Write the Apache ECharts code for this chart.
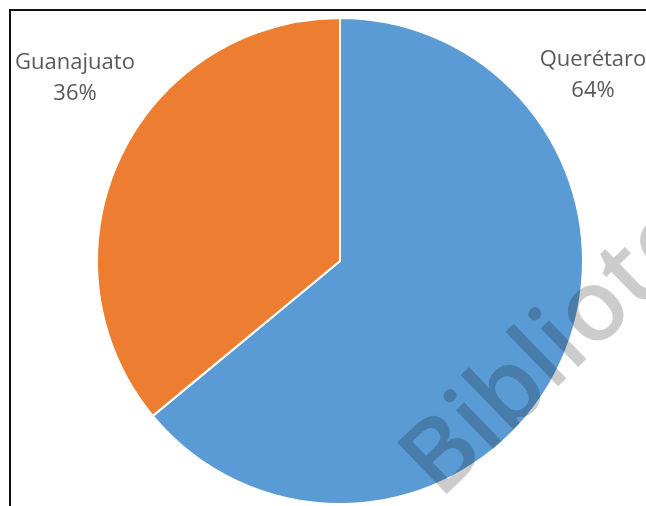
<!DOCTYPE html>
<html>
<head>
<meta charset="utf-8">
<style>
  html, body { margin: 0; padding: 0; background: #ffffff; }
  #chart { width: 646px; height: 506px; }
</style>
<script src="https://cdn.jsdelivr.net/npm/echarts@6/dist/echarts.min.js"></script>
</head>
<body>
<div id="chart"></div>
<script>
// Share of the total by state
const categories = ['Querétaro', 'Guanajuato'];
const shares = [64, 36];
const sliceColors = ['#5B9BD5', '#ED7D31'];

// Where each two-line label block is centred
const labelSpots = [
  { x: 593, y: 75 },
  { x: 75, y: 78 }
];

const chart = echarts.init(document.getElementById('chart'), null, { renderer: 'canvas' });

chart.setOption({
  backgroundColor: '#ffffff',
  animation: false,
  series: [{
    type: 'pie',
    center: [340, 261],
    radius: [0, 243],
    startAngle: 90,
    clockwise: true,
    avoidLabelOverlap: false,
    data: categories.map((name, i) => ({
      name: name,
      value: shares[i],
      itemStyle: { color: sliceColors[i] }
    })),
    itemStyle: { borderColor: '#ffffff', borderWidth: 2 },
    label: {
      show: true,
      position: 'outside',
      formatter: '{b}\n{d}%',
      fontFamily: '"Open Sans", sans-serif',
      fontSize: 22,
      lineHeight: 31,
      color: '#595959',
      align: 'center'
    },
    labelLine: { show: false },
    labelLayout: function (params) {
      const spot = labelSpots[params.dataIndex];
      return { x: spot.x, y: spot.y, align: 'center', verticalAlign: 'middle' };
    },
    emphasis: { disabled: true }
  }],
  graphic: [
    {
      type: 'rect',
      shape: { x: 10, y: 10, width: 700, height: 600 },
      style: { fill: null, stroke: '#111111', lineWidth: 2 },
      silent: true,
      z: 50
    },
    {
      // translucent watermark laid over the pie
      type: 'text',
      x: 455,
      y: 516,
      rotation: 44 * Math.PI / 180,
      style: {
        text: 'Biblioteca',
        fontFamily: '"Open Sans", sans-serif',
        fontWeight: 600,
        fontSize: 100,
        fill: 'rgba(0,0,0,0.2)',
        verticalAlign: 'bottom'
      },
      silent: true,
      z: 100
    }
  ]
});
</script>
</body>
</html>
